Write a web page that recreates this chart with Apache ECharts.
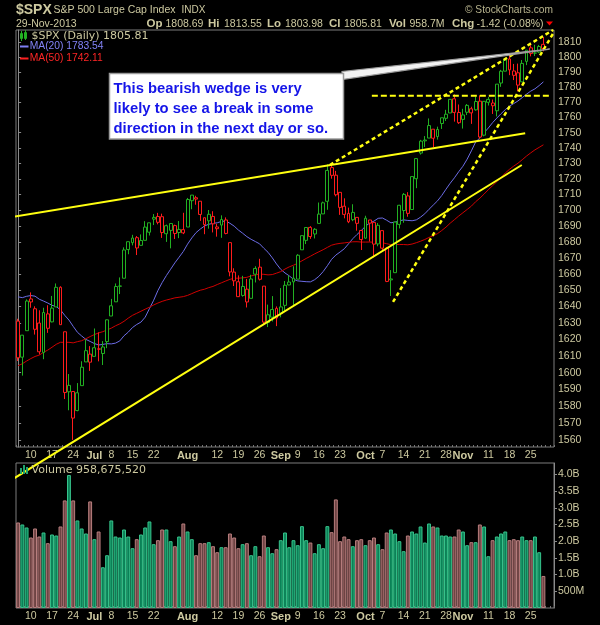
<!DOCTYPE html>
<html>
<head>
<meta charset="utf-8">
<title>$SPX daily</title>
<script src="https://cdn.jsdelivr.net/npm/echarts@6/dist/echarts.min.js"></script>
<style>
  html, body { margin: 0; padding: 0; background: #000; }
  #chart { width: 600px; height: 625px; }
</style>
</head>
<body>
<div id="chart"></div>
<script>
// S&P 500 daily bars, 5 Jun - 29 Nov 2013
const dates = [
  '06-05','06-06','06-07','06-10','06-11','06-12','06-13','06-14','06-17','06-18',
  '06-19','06-20','06-21','06-24','06-25','06-26','06-27','06-28','07-01','07-02',
  '07-03','07-05','07-08','07-09','07-10','07-11','07-12','07-15','07-16','07-17',
  '07-18','07-19','07-22','07-23','07-24','07-25','07-26','07-29','07-30','07-31',
  '08-01','08-02','08-05','08-06','08-07','08-08','08-09','08-12','08-13','08-14',
  '08-15','08-16','08-19','08-20','08-21','08-22','08-23','08-26','08-27','08-28',
  '08-29','08-30','09-03','09-04','09-05','09-06','09-09','09-10','09-11','09-12',
  '09-13','09-16','09-17','09-18','09-19','09-20','09-23','09-24','09-25','09-26',
  '09-27','09-30','10-01','10-02','10-03','10-04','10-07','10-08','10-09','10-10',
  '10-11','10-14','10-15','10-16','10-17','10-18','10-21','10-22','10-23','10-24',
  '10-25','10-28','10-29','10-30','10-31','11-01','11-04','11-05','11-06','11-07',
  '11-08','11-11','11-12','11-13','11-14','11-15','11-18','11-19','11-20','11-21',
  '11-22','11-25','11-26','11-27','11-29'
];
// two empty slots at the right edge of the chart
const padDates = ['12-02', '12-03'];

const opens = [
  1631.11,1609.29,1625.27,1644.67,1638.64,1629.94,1612.15,1635.52,1630.64,1639.77,
  1651.83,1624.62,1588.62,1588.77,1577.52,1592.27,1606.44,1611.12,1609.78,1614.29,
  1611.48,1618.65,1634.20,1642.89,1652.50,1657.41,1675.26,1679.59,1682.70,1677.91,
  1681.05,1686.15,1694.41,1696.06,1695.95,1685.21,1687.31,1690.32,1687.92,1687.76,
  1689.42,1706.10,1708.01,1705.79,1695.30,1693.35,1696.10,1688.37,1690.65,1693.88,
  1679.61,1661.22,1655.25,1646.81,1650.66,1645.03,1659.92,1664.29,1652.54,1630.25,
  1633.50,1638.89,1635.95,1640.72,1653.28,1657.44,1656.85,1675.11,1681.04,1689.21,
  1685.04,1691.70,1697.73,1705.74,1727.34,1722.44,1711.44,1702.60,1698.02,1694.05,
  1695.52,1687.26,1682.41,1691.90,1692.35,1678.79,1687.15,1676.22,1656.99,1660.88,
  1691.09,1699.86,1709.17,1700.49,1720.17,1736.72,1745.20,1746.48,1752.27,1747.48,
  1756.01,1759.42,1762.93,1772.27,1763.24,1758.70,1763.40,1765.67,1765.00,1770.74,
  1748.37,1769.96,1769.51,1764.37,1782.75,1790.66,1798.82,1790.79,1789.59,1783.52,
  1797.21,1806.33,1802.87,1803.48,1808.69
];
const highs = [
  1632.52,1622.72,1644.40,1648.69,1640.13,1637.71,1639.25,1640.80,1646.50,1654.19,
  1652.45,1624.62,1599.19,1588.77,1593.79,1606.83,1620.07,1615.94,1626.61,1624.26,
  1618.97,1632.07,1644.68,1654.18,1657.92,1676.63,1680.19,1684.51,1683.73,1684.75,
  1693.12,1692.09,1697.61,1698.38,1697.86,1690.94,1691.85,1690.92,1693.19,1698.43,
  1707.85,1709.67,1709.24,1705.79,1695.30,1700.18,1699.42,1691.49,1696.81,1695.52,
  1679.61,1663.60,1659.18,1658.92,1656.99,1659.55,1664.85,1669.51,1652.54,1641.18,
  1646.41,1640.08,1651.35,1655.72,1659.17,1664.83,1672.40,1684.09,1689.13,1689.97,
  1688.73,1704.95,1705.52,1729.44,1729.86,1725.23,1711.44,1707.63,1701.71,1703.85,
  1695.52,1687.26,1696.55,1693.87,1692.35,1691.94,1687.15,1676.79,1662.47,1692.56,
  1703.44,1711.03,1711.57,1721.76,1733.45,1745.31,1747.79,1759.33,1752.27,1753.94,
  1759.82,1764.99,1772.09,1775.22,1768.53,1765.67,1768.78,1767.03,1773.74,1774.54,
  1770.78,1773.44,1771.78,1782.00,1791.53,1798.22,1802.33,1795.51,1795.73,1798.15,
  1804.84,1808.10,1808.42,1808.27,1813.55
];
const lows = [
  1607.00,1598.23,1625.27,1639.26,1622.92,1610.92,1608.07,1623.96,1630.34,1639.77,
  1628.91,1584.32,1577.70,1560.33,1577.09,1592.27,1606.44,1601.06,1609.78,1606.77,
  1604.57,1614.71,1634.20,1642.89,1647.66,1657.41,1672.33,1677.89,1671.84,1677.91,
  1681.05,1684.08,1690.67,1691.13,1682.57,1680.07,1676.03,1681.86,1682.42,1684.94,
  1689.42,1700.68,1703.55,1693.29,1684.91,1688.38,1686.02,1683.35,1682.62,1684.83,
  1658.59,1652.61,1645.84,1646.08,1639.43,1645.03,1654.81,1656.02,1629.05,1627.47,
  1630.88,1628.05,1633.41,1637.41,1653.07,1640.62,1656.85,1675.11,1678.70,1681.96,
  1682.22,1691.70,1697.73,1700.35,1720.20,1708.89,1697.10,1694.90,1691.88,1693.11,
  1687.11,1674.99,1682.07,1680.34,1670.36,1677.33,1674.70,1655.03,1646.47,1660.88,
  1688.52,1692.13,1695.93,1700.49,1714.12,1735.74,1740.67,1746.48,1740.50,1745.50,
  1752.45,1757.67,1762.93,1757.24,1755.72,1752.70,1761.56,1755.76,1764.40,1746.20,
  1747.63,1767.85,1762.29,1760.64,1780.22,1790.66,1788.00,1784.72,1777.23,1783.52,
  1794.70,1800.58,1800.77,1802.77,1803.98
];
const closes = [
  1608.90,1622.56,1643.38,1642.81,1626.13,1612.52,1636.36,1626.73,1639.04,1651.81,
  1628.93,1588.19,1592.43,1573.09,1588.03,1603.26,1613.20,1606.28,1614.96,1614.08,
  1615.41,1631.89,1640.46,1652.32,1652.62,1675.02,1680.19,1682.50,1676.26,1680.91,
  1689.37,1692.09,1695.53,1692.39,1685.94,1690.25,1691.65,1685.33,1685.96,1685.73,
  1706.87,1709.67,1707.14,1697.37,1690.91,1697.48,1691.42,1689.47,1694.16,1685.39,
  1661.32,1655.83,1646.06,1652.35,1642.80,1656.96,1663.50,1656.78,1630.48,1634.96,
  1638.17,1632.97,1639.77,1653.08,1655.08,1655.17,1671.71,1683.99,1689.13,1683.42,
  1687.99,1697.60,1704.76,1725.52,1722.34,1709.91,1701.84,1697.42,1692.77,1698.67,
  1691.75,1681.55,1695.00,1693.87,1678.66,1690.50,1676.12,1655.45,1656.40,1692.56,
  1703.20,1710.14,1698.06,1721.54,1733.15,1744.50,1744.66,1754.67,1746.38,1752.07,
  1759.77,1762.11,1771.95,1763.31,1756.54,1761.64,1767.93,1762.97,1770.49,1747.15,
  1770.61,1771.89,1767.69,1782.00,1790.62,1798.18,1791.53,1787.87,1781.37,1795.85,
  1804.76,1802.48,1802.75,1807.23,1805.81
];
const prevClose = 1631.38; // 4 Jun, colours the first bar

// volume in billions of shares
const volumes = [
  2.56,2.50,2.41,2.11,2.38,2.14,2.26,1.94,2.20,2.17,
  2.44,3.22,3.98,3.22,2.62,2.38,2.23,3.19,2.06,2.29,
  1.22,1.58,2.62,2.14,2.11,2.35,2.14,1.79,2.06,2.20,
  2.41,2.59,1.91,2.03,2.35,2.35,2.00,1.85,2.14,2.53,
  2.29,2.06,1.58,1.94,1.94,1.97,1.85,1.67,1.82,1.82,
  2.23,2.11,1.79,1.91,1.94,1.58,1.85,1.55,2.17,1.82,
  1.64,1.76,2.03,2.26,1.82,2.03,1.88,2.45,2.03,1.96,
  1.64,1.91,1.79,2.45,2.27,3.25,2.00,2.14,2.06,1.85,
  2.03,2.06,1.88,2.03,2.11,1.91,1.76,2.26,2.35,2.23,
  2.00,1.70,2.17,2.29,2.23,2.44,1.96,2.53,2.44,2.41,
  2.17,2.17,2.14,2.14,2.35,2.29,1.88,1.97,1.97,2.50,
  2.44,1.55,2.03,2.14,2.23,2.29,2.03,2.06,2.03,2.14,
  2.03,2.03,2.14,1.67,0.959
];

const ma20 = [
  1645.95,1645.45,1646.28,1646.74,1646.36,1644.47,1643.34,1642.16,1640.74,1640.01,
  1638.00,1634.64,1631.74,1627.91,1624.31,1622.06,1620.00,1618.77,1617.50,1616.63,
  1616.96,1617.43,1617.28,1617.76,1619.08,1622.21,1624.40,1627.19,1629.05,1630.50,
  1633.52,1638.72,1643.87,1649.84,1654.73,1659.08,1663.01,1666.96,1670.51,1674.09,
  1678.66,1682.55,1685.89,1688.14,1690.05,1691.18,1691.74,1692.09,1692.98,1693.21,
  1691.80,1689.99,1687.52,1685.52,1683.36,1681.69,1680.29,1678.86,1676.08,1673.55,
  1670.11,1666.28,1662.91,1660.69,1658.90,1656.79,1655.80,1655.53,1655.28,1655.18,
  1656.51,1658.60,1661.53,1665.19,1669.17,1671.82,1673.73,1675.77,1678.88,1682.07,
  1684.74,1687.17,1689.94,1691.97,1693.15,1694.92,1695.14,1693.71,1692.08,1692.53,
  1693.29,1693.92,1693.59,1693.39,1693.93,1695.66,1697.80,1700.66,1703.34,1706.01,
  1709.41,1713.44,1717.29,1720.76,1724.65,1728.21,1732.80,1738.18,1743.88,1746.61,
  1749.98,1753.07,1756.55,1759.57,1762.45,1765.13,1767.48,1769.14,1770.88,1773.07,
  1775.32,1777.34,1778.88,1781.08,1783.54
];
const ma50 = [
  1604.17,1605.35,1606.96,1608.43,1609.71,1610.55,1612.21,1613.54,1615.26,1617.03,
  1618.24,1618.25,1618.23,1617.91,1618.63,1619.20,1620.42,1621.72,1622.91,1623.94,
  1624.68,1625.74,1626.84,1628.25,1629.43,1630.98,1632.92,1634.62,1635.86,1637.13,
  1638.40,1639.58,1640.96,1642.14,1643.18,1643.98,1644.63,1645.33,1645.70,1646.09,
  1646.84,1647.93,1649.06,1650.02,1650.64,1651.62,1652.36,1653.53,1654.61,1655.69,
  1656.74,1657.40,1657.46,1657.65,1657.98,1658.87,1659.41,1660.01,1659.84,1659.50,
  1659.69,1660.58,1661.53,1663.13,1664.47,1665.51,1666.68,1668.23,1669.72,1671.10,
  1672.56,1673.87,1675.16,1676.62,1678.01,1678.71,1679.15,1679.44,1679.77,1680.13,
  1680.18,1679.97,1679.96,1679.99,1679.84,1679.84,1679.53,1678.94,1678.35,1678.48,
  1678.41,1678.42,1678.24,1678.72,1679.56,1680.50,1681.57,1682.87,1683.92,1685.25,
  1687.22,1689.35,1691.86,1694.08,1696.36,1698.45,1700.54,1702.66,1705.46,1707.71,
  1710.36,1713.14,1715.69,1718.27,1720.98,1723.84,1726.24,1728.32,1730.16,1732.41,
  1734.75,1736.84,1738.80,1740.44,1742.11
];

const priceTicks = [1560,1570,1580,1590,1600,1610,1620,1630,1640,1650,1660,1670,1680,
  1690,1700,1710,1720,1730,1740,1750,1760,1770,1780,1790,1800,1810];
const volumeTicks = [0.5, 1.0, 1.5, 2.0, 2.5, 3.0, 3.5, 4.0];
const tickDates = ['06-10','06-17','06-24','07-01','07-08','07-15','07-22','08-01','08-12',
  '08-19','08-26','09-03','09-09','09-16','09-23','10-01','10-07','10-14','10-21','10-28',
  '11-01','11-11','11-18','11-25'];
const tickTexts = ['10','17','24','Jul','8','15','22','Aug','12','19','26','Sep','9','16',
  '23','Oct','7','14','21','28','Nov','11','18','25'];

// hand drawn trend lines, [bar index, price]
const upperTrend = [[-4.3, 1694.5], [119.7, 1749.6]];
const lowerTrend = [[-4.3, 1533.1], [118.9, 1729.0]];
const wedgeTop = [[73.6, 1729.0], [126.3, 1818.4]];
const wedgeBottom = [[88.5, 1642.8], [126.5, 1817.0]];
const resistance = [[83.5, 1774.3], [125.6, 1774.3]];
const calloutTip = [125.5, 1805.5];
const note = ['This bearish wedge is very', 'likely to see a break in some',
  'direction in the next day or so.'];

const khaki = '#cdc9a0';
const upCol = '#22b022';
const downCol = '#ff1c1c';
const labelFont = 'Liberation Sans';

const candles = dates.map((d, i) => {
  const o = opens[i], c = closes[i];
  const ref = i === 0 ? prevClose : closes[i - 1];
  const col = c >= ref ? upCol : downCol;
  return {
    value: [o, c, lows[i], highs[i]],
    itemStyle: { color: '#000', color0: col, borderColor: col, borderColor0: col, borderWidth: 1 }
  };
});
const volBars = volumes.map((v, i) => {
  const ref = i === 0 ? prevClose : closes[i - 1];
  const up = closes[i] >= ref;
  return {
    value: v,
    itemStyle: { color: up ? '#0b8157' : '#6e4343', borderColor: up ? '#37c48c' : '#b87e7e', borderWidth: 1 }
  };
});

function xLabels() {
  return {
    interval: 0, margin: 3, color: khaki, fontSize: 10.5, fontFamily: labelFont,
    formatter: function (val) {
      const k = tickDates.indexOf(val);
      if (k < 0) return '';
      const t = tickTexts[k];
      return /^[A-Z]/.test(t) ? '{m|' + t + '}' : t;
    },
    rich: { m: { fontWeight: 'bold', fontSize: 11, color: khaki, fontFamily: labelFont } }
  };
}

function trend(data, dash, width) {
  return {
    type: 'line', xAxisIndex: 2, yAxisIndex: 0, data: data, clip: false, symbol: 'none',
    silent: true, z: 6, lineStyle: { color: '#ffff10', width: width, type: dash }
  };
}

const chart = echarts.init(document.getElementById('chart'));
const option = {
  animation: false,
  backgroundColor: '#000',
  grid: [
    { left: 16, right: 46, top: 30, height: 417, show: true, borderColor: '#7c7c7c', borderWidth: 1, backgroundColor: '#000' },
    { left: 16, right: 46, top: 463, height: 145, show: true, borderColor: '#7c7c7c', borderWidth: 1, backgroundColor: '#000' }
  ],
  xAxis: [
    { type: 'category', gridIndex: 0, data: dates.concat(padDates),
      axisLine: { show: false },
      axisTick: { show: true, interval: 0, inside: true, length: 2, lineStyle: { color: '#777' } },
      axisLabel: xLabels(), splitLine: { show: false } },
    { type: 'category', gridIndex: 1, data: dates.concat(padDates),
      axisLine: { show: false },
      axisTick: { show: true, interval: 0, inside: true, length: 2, lineStyle: { color: '#777' } },
      axisLabel: xLabels(), splitLine: { show: false } },
    { type: 'value', gridIndex: 0, min: -0.5, max: dates.length + padDates.length - 0.5, show: false }
  ],
  yAxis: [
    { type: 'log', logBase: 10, gridIndex: 0, position: 'right', min: 1556.2, max: 1818.4,
      axisLine: { show: true, lineStyle: { color: '#8a8a8a' } },
      axisTick: { show: true, customValues: priceTicks, length: 3, lineStyle: { color: '#8a8a8a' } },
      axisLabel: { customValues: priceTicks, color: khaki, fontSize: 10.5, fontFamily: labelFont, margin: 4,
        formatter: v => String(Math.round(v)) },
      splitLine: { show: false } },
    { type: 'value', gridIndex: 1, position: 'right', min: 0, max: 4.34,
      axisLine: { show: true, lineStyle: { color: '#8a8a8a' } },
      axisTick: { show: true, customValues: volumeTicks, length: 3, lineStyle: { color: '#8a8a8a' } },
      axisLabel: { customValues: volumeTicks, color: khaki, fontSize: 10.5, fontFamily: labelFont, margin: 4,
        formatter: v => v < 1 ? Math.round(v * 1000) + 'M' : v.toFixed(1) + 'B' },
      splitLine: { show: false } }
  ],
  series: [
    { type: 'candlestick', xAxisIndex: 0, yAxisIndex: 0, data: candles, barWidth: 3.4, z: 3 },
    { type: 'line', xAxisIndex: 0, yAxisIndex: 0, data: ma20, symbol: 'none', z: 2,
      lineStyle: { color: '#6c6ce6', width: 1 } },
    { type: 'line', xAxisIndex: 0, yAxisIndex: 0, data: ma50, symbol: 'none', z: 2,
      lineStyle: { color: '#d00000', width: 1 } },
    trend(upperTrend, 'solid', 2),
    trend(lowerTrend, 'solid', 2),
    trend(wedgeTop, [4, 3], 2.5),
    trend(wedgeBottom, [4, 3], 2.5),
    trend(resistance, [6, 3], 2),
    { type: 'bar', xAxisIndex: 1, yAxisIndex: 1, data: volBars, barCategoryGap: '8%' }
  ]
};
chart.setOption(option);

// header, legends and the note box
const tip = chart.convertToPixel({ seriesIndex: 3 }, calloutTip);
function txt(x, y, s, font, fill) {
  return { type: 'text', x: x, y: y, z: 50,
    style: { text: s, font: font, fill: fill, verticalAlign: 'middle', textVerticalAlign: 'middle' } };
}
const hdr = '10.5px ' + labelFont;
const hdrB = 'bold 11.5px ' + labelFont;
const els = [
  txt(16, 10, '$SPX', 'bold 14px ' + labelFont, khaki),
  txt(53.5, 10.5, 'S&P 500 Large Cap Index', hdr, khaki),
  txt(181.5, 10.5, 'INDX', '10px ' + labelFont, khaki),
  txt(465, 10.5, '\u00a9 StockCharts.com', '10.2px ' + labelFont, '#b8b48e'),
  txt(16, 24, '29-Nov-2013', hdr, khaki),
  txt(146.5, 24, 'Op', hdrB, khaki), txt(165.5, 24, '1808.69', hdr, khaki),
  txt(208, 24, 'Hi', hdrB, khaki), txt(224, 24, '1813.55', hdr, khaki),
  txt(267, 24, 'Lo', hdrB, khaki), txt(285, 24, '1803.98', hdr, khaki),
  txt(329, 24, 'Cl', hdrB, khaki), txt(344, 24, '1805.81', hdr, khaki),
  txt(389, 24, 'Vol', hdrB, khaki), txt(409.5, 24, '958.7M', hdr, khaki),
  txt(452, 24, 'Chg', hdrB, khaki), txt(476.5, 24, '-1.42 (-0.08%)', hdr, khaki),
  { type: 'polygon', z: 50, shape: { points: [[546, 21.5], [553, 21.5], [549.5, 25.5]] }, style: { fill: '#ff0000' } },

  // price legend
  { type: 'rect', z: 50, shape: { x: 20.5, y: 33.5, width: 2, height: 5 }, style: { fill: 'none', stroke: upCol } },
  { type: 'rect', z: 50, shape: { x: 24.5, y: 32.5, width: 2, height: 6 }, style: { fill: 'none', stroke: upCol } },
  { type: 'line', z: 50, shape: { x1: 21.5, y1: 31, x2: 21.5, y2: 41 }, style: { stroke: upCol } },
  { type: 'line', z: 50, shape: { x1: 25.5, y1: 30, x2: 25.5, y2: 40 }, style: { stroke: upCol } },
  txt(31.5, 36, '$SPX (Daily) 1805.81', '11px DejaVu Sans', khaki),
  { type: 'line', z: 50, shape: { x1: 20, y1: 46.5, x2: 28.5, y2: 46.5 }, style: { stroke: '#7f7ff5', lineWidth: 2 } },
  txt(29.7, 46.5, 'MA(20) 1783.54', '10.3px ' + labelFont, '#8383f7'),
  { type: 'line', z: 50, shape: { x1: 20, y1: 58.5, x2: 28.5, y2: 58.5 }, style: { stroke: '#ff2020', lineWidth: 2 } },
  txt(29.7, 58.5, 'MA(50) 1742.11', '10.3px ' + labelFont, '#ff2626'),

  // volume legend
  { type: 'rect', z: 50, shape: { x: 20, y: 468, width: 2, height: 6 }, style: { fill: '#1fa36e' } },
  { type: 'rect', z: 50, shape: { x: 23, y: 465, width: 2, height: 9 }, style: { fill: '#1fa36e' } },
  { type: 'rect', z: 50, shape: { x: 26, y: 467, width: 2, height: 7 }, style: { fill: '#1fa36e' } },
  txt(31.5, 470, 'Volume 958,675,520', '11px DejaVu Sans', khaki),

  // note box with its pointer
  { type: 'polygon', z: 60, shape: { points: [[342, 71.5], [342, 79.5], [tip[0], tip[1]]] },
    style: { fill: '#f2f2f2', stroke: '#9c9c9c', lineWidth: 1.2 } },
  { type: 'rect', z: 61, shape: { x: 109.5, y: 73.5, width: 234, height: 65.5 },
    style: { fill: '#ffffff', stroke: '#9a9a9a', lineWidth: 1.5 } }
];
note.forEach((line, k) => {
  const t = txt(113.5, 88.5 + k * 20, line, 'bold 14.8px ' + labelFont, '#1515e8');
  t.z = 62;
  els.push(t);
});
chart.setOption({ graphic: { elements: els } });
window.onresize = chart.resize;
</script>
</body>
</html>
